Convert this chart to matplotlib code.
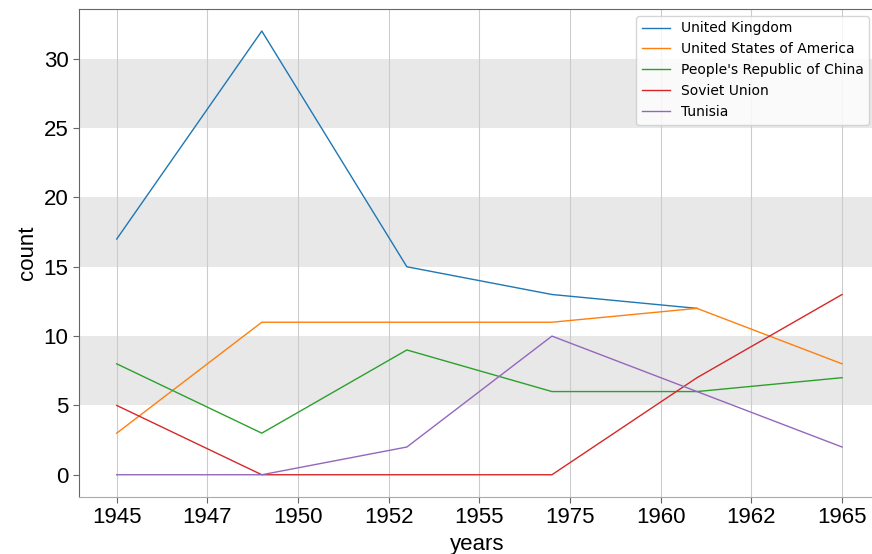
import numpy as np
import matplotlib
matplotlib.use("Agg")
import matplotlib.pyplot as plt

# values
tick_labels = ["1945", "1947", "1950", "1952", "1955", "1975", "1960", "1962", "1965"]
uk = [17, 32, 15, 13, 12]
usa = [3, 11, 11, 11, 12, 8]
china = [8, 3, 9, 6, 6, 7]
soviet = [5, 0, 0, 0, 7, 13]
tunisia = [0, 0, 2, 10, 6, 2]

series = [
    ("United Kingdom", uk),
    ("United States of America", usa),
    ("People's Republic of China", china),
    ("Soviet Union", soviet),
    ("Tunisia", tunisia),
]

fig = plt.figure(figsize=(8.72, 5.54), dpi=100)
# axes runs a little past the right edge of the figure, like the reference
ax = fig.add_axes([0.0906, 0.103, 0.914, 0.881])

for name, vals in series:
    ax.plot(np.arange(len(vals)), vals, lw=1, label=name)

# shaded horizontal bands
for lo in (5, 15, 25):
    ax.axhspan(lo, lo + 5, color="#e8e8e8", zorder=0, lw=0)

ax.set_xlim(-0.26, 5.234)
ax.set_xticks(np.linspace(0, 5, len(tick_labels)))
ax.set_xticklabels(tick_labels, fontsize=16, family="Liberation Sans")
ax.set_yticks([0, 5, 10, 15, 20, 25, 30])
ax.set_yticklabels([str(v) for v in [0, 5, 10, 15, 20, 25, 30]],
                   fontsize=16, family="Liberation Sans")
ax.xaxis.grid(True, color="#cccccc", lw=0.8)
ax.set_axisbelow(True)

for s in ax.spines.values():
    s.set_color("#666666")
ax.spines["bottom"].set_color("#aaaaaa")
ax.tick_params(colors="#666666", labelcolor="black", length=4)

ax.set_xlabel("years", fontsize=16, family="Liberation Sans", labelpad=4)
ax.set_ylabel("count", fontsize=16, family="Liberation Sans")

ax.legend(loc="upper right", fontsize=10)

fig.savefig("out.png", dpi=100)
